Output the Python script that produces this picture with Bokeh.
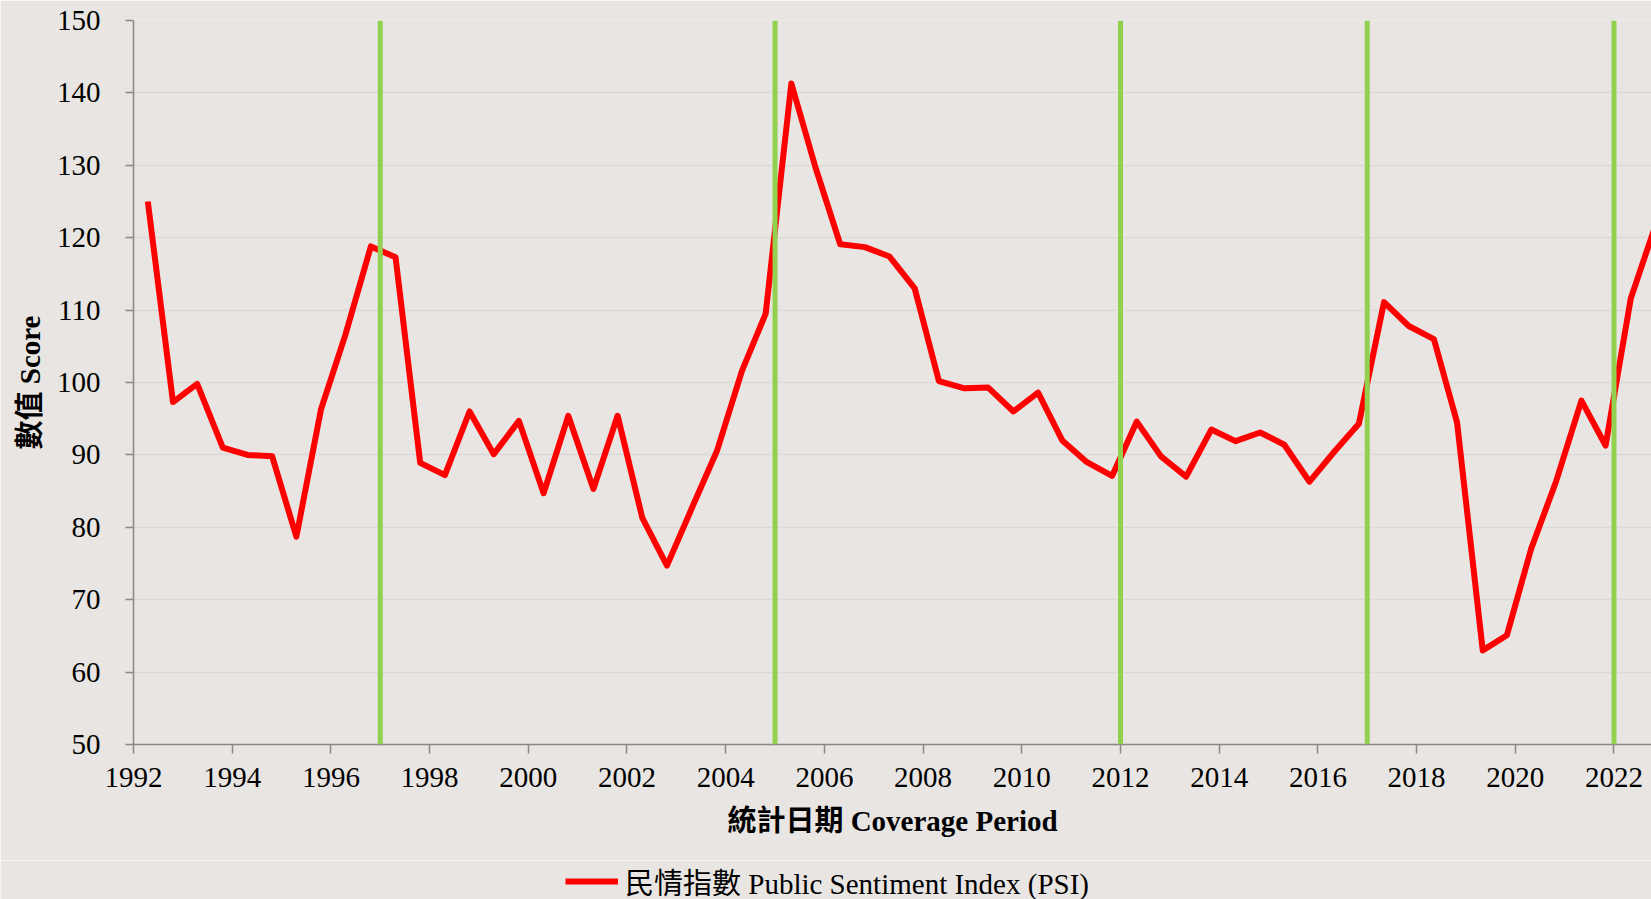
from bokeh.plotting import figure
from bokeh.models import FixedTicker, Range1d, Legend, LegendItem, Span, ColumnDataSource
from bokeh.embed import file_html
from bokeh.resources import INLINE

# ---- data ----
years = [1992.29, 1992.80, 1993.29, 1993.81, 1994.31, 1994.81, 1995.30, 1995.80,
         1996.29, 1996.81, 1997.31, 1997.81, 1998.31, 1998.81, 1999.30, 1999.81,
         2000.31, 2000.81, 2001.32, 2001.81, 2002.31, 2002.81, 2003.33, 2003.82,
         2004.33, 2004.81, 2005.33, 2005.82, 2006.32, 2006.82, 2007.32, 2007.83,
         2008.32, 2008.84, 2009.32, 2009.83, 2010.33, 2010.82, 2011.32, 2011.83,
         2012.33, 2012.82, 2013.33, 2013.84, 2014.33, 2014.83, 2015.32, 2015.83,
         2016.34, 2016.83, 2017.34, 2017.84, 2018.35, 2018.82, 2019.34, 2019.83,
         2020.32, 2020.83, 2021.34, 2021.83, 2022.34, 2022.84]
psi = [125.0, 97.3, 99.8, 91.0, 90.0, 89.8, 78.7, 96.3,
       106.5, 118.8, 117.3, 88.9, 87.2, 96.0, 90.1, 94.7,
       84.7, 95.4, 85.3, 95.4, 81.3, 74.7, 82.9, 90.5,
       101.6, 109.5, 141.3, 129.7, 119.1, 118.7, 117.4, 113.0,
       100.2, 99.2, 99.3, 96.0, 98.6, 92.0, 89.0, 87.1,
       94.6, 89.8, 87.0, 93.5, 91.9, 93.1, 91.4, 86.3,
       90.5, 94.3, 111.1, 107.8, 106.0, 94.5, 63.0, 65.1,
       77.0, 86.4, 97.5, 91.3, 111.6, 121.7]
marker_years = [1997.0, 2005.0, 2012.0, 2017.0, 2022.0]
x_ticks = list(range(1992, 2023, 2))
y_ticks = list(range(50, 151, 10))
x_title = "統計日期 Coverage Period"
y_title = "數值 Score"
series_name = "民情指數 Public Sentiment Index (PSI)"

BG = "#E8E5E2"
RED = "#FF0000"
FONT = "'Liberation Serif', 'Noto Sans CJK TC', serif"

src = ColumnDataSource(data=dict(x=years, y=psi))

p = figure(width=1651, height=860, output_backend="svg", toolbar_location=None,
           x_range=Range1d(x_ticks[0], 2022.76), y_range=Range1d(y_ticks[0], y_ticks[-1]),
           min_border_left=133, min_border_right=0, min_border_top=20, min_border_bottom=116)

p.background_fill_color = BG
p.border_fill_color = BG
p.outline_line_color = None

p.xgrid.visible = False
p.ygrid.grid_line_color = "#D9D9D9"
p.ygrid.grid_line_width = 1.5

for ax in (p.xaxis[0], p.yaxis[0]):
    ax.axis_line_color = "#888888"
    ax.axis_line_width = 1.5
    ax.major_tick_line_color = "#888888"
    ax.major_tick_line_width = 1.5
    ax.major_tick_in = 0
    ax.minor_tick_line_color = None
    ax.major_label_text_font = FONT
    ax.major_label_text_font_size = "29px"
    ax.major_label_text_color = "#000000"
    ax.axis_label_text_font = FONT
    ax.axis_label_text_font_size = "29px"
    ax.axis_label_text_font_style = "bold"
    ax.axis_label_text_color = "#000000"

p.xaxis.ticker = FixedTicker(ticks=x_ticks)
p.yaxis.ticker = FixedTicker(ticks=y_ticks)
p.xaxis.major_tick_out = 9
p.yaxis.major_tick_out = 8
p.xaxis.major_label_standoff = 14
p.yaxis.major_label_standoff = 25
p.xaxis.axis_label = x_title
p.yaxis.axis_label = y_title
p.xaxis.axis_label_standoff = 15
p.yaxis.axis_label_standoff = 8

p.line("x", "y", source=src, line_color=RED, line_width=6, line_join="round")

for yr in marker_years:
    p.add_layout(Span(location=yr, dimension="height", line_color="#92D050", line_width=5))

# ---- legend strip under the chart ----
pl = figure(width=1651, height=39, output_backend="svg", toolbar_location=None,
            x_axis_type=None, y_axis_type=None, min_border=0,
            x_range=Range1d(0, 1), y_range=Range1d(0, 1))
pl.background_fill_color = BG
pl.border_fill_color = BG
pl.outline_line_color = None
# same data as the chart; it lies outside this strip's ranges, only its legend sample shows
leg_line = pl.line("x", "y", source=src, line_color=RED, line_width=6)

legend = Legend(items=[LegendItem(label=series_name, renderers=[leg_line])],
                location=(565, -3), orientation="horizontal",
                background_fill_alpha=0, border_line_alpha=0,
                label_text_font=FONT, label_text_font_size="29px", label_text_color="#000000",
                glyph_width=53, glyph_height=20, label_standoff=7, padding=0, margin=0, spacing=0)
pl.add_layout(legend, "center")

open("out.html", "w").write(file_html([p, pl], INLINE))
